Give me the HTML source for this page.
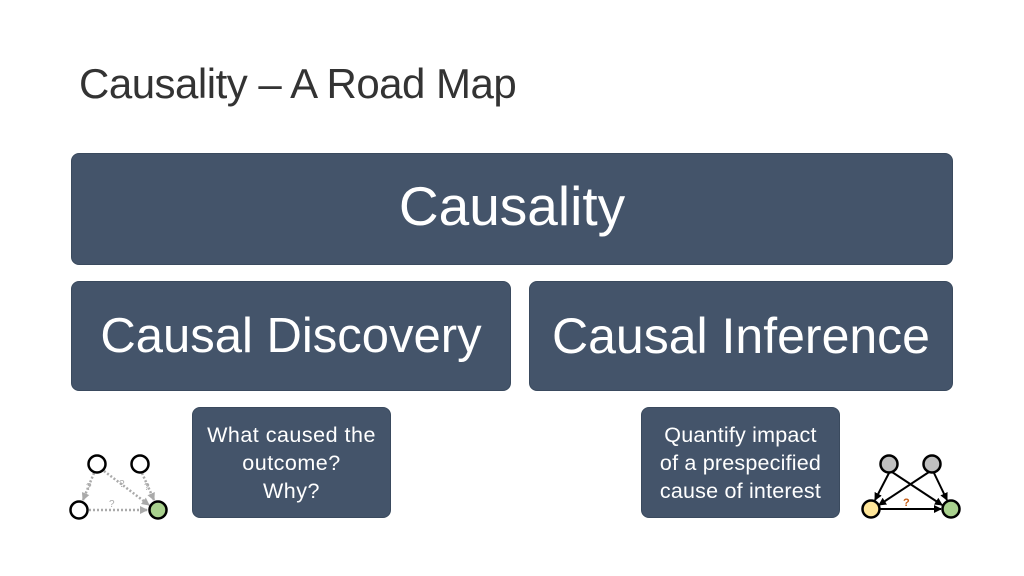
<!DOCTYPE html>
<html><head><style>
body{margin:0;width:1024px;height:576px;background:#fff;position:relative;overflow:hidden;font-family:"Liberation Sans",sans-serif}
.b{position:absolute;background:#44546A;border:1.5px solid #3a4a5e;border-radius:8px;color:#fff;display:flex;align-items:center;justify-content:center;text-align:center;box-sizing:border-box;white-space:nowrap}
</style></head><body>
<div style="position:absolute;left:79px;top:60px;font-size:42px;color:#333;letter-spacing:-0.5px">Causality – A Road Map</div>
<div class="b" style="left:71px;top:153px;width:882px;height:112px;font-size:55px;padding-bottom:6px">Causality</div>
<div class="b" style="left:71px;top:281px;width:440px;height:110px;font-size:49px">Causal Discovery</div>
<div class="b" style="left:529px;top:281px;width:424px;height:110px;font-size:50px">Causal Inference</div>
<div class="b" style="left:192px;top:407px;width:199px;height:111px;font-size:21.5px;line-height:28px;letter-spacing:0.5px">What caused the<br>outcome?<br>Why?</div>
<div class="b" style="left:641px;top:407px;width:199px;height:111px;font-size:21.5px;line-height:28px;letter-spacing:0.2px">Quantify impact<br>of a prespecified<br>cause of interest</div>
<svg width="1024" height="576" style="position:absolute;left:0;top:0">
<defs>
<marker id="g" markerUnits="userSpaceOnUse" markerWidth="8" markerHeight="8" refX="7" refY="4" orient="auto"><path d="M0,0L8,4L0,8z" fill="#aaa"/></marker>
<marker id="k" markerUnits="userSpaceOnUse" markerWidth="8" markerHeight="8" refX="7" refY="4" orient="auto"><path d="M0,0L8,4L0,8z" fill="#000"/></marker>
</defs>
<g stroke="#aaa" stroke-width="2.5" stroke-dasharray="2,2" fill="none" marker-end="url(#g)">
<line x1="94" y1="473" x2="83" y2="500"/><line x1="104" y1="471" x2="149" y2="505"/>
<line x1="142" y1="473" x2="154" y2="500"/><line x1="89" y1="510" x2="147" y2="510"/>
</g>
<g font-size="10" fill="#aaa"><text x="86" y="490">?</text><text x="119" y="487">?</text><text x="144" y="490">?</text><text x="109" y="507">?</text></g>
<g stroke="#000" stroke-width="2.5" fill="#fff"><circle cx="97" cy="464" r="8.5"/><circle cx="140" cy="464" r="8.5"/><circle cx="79" cy="510" r="8.5"/><circle cx="158" cy="510" r="8.5" fill="#a9d18e"/></g>
<g stroke="#000" stroke-width="2" marker-end="url(#k)">
<line x1="889" y1="473" x2="875" y2="500"/><line x1="892" y1="472" x2="942" y2="505"/>
<line x1="929" y1="472" x2="879" y2="505"/><line x1="934" y1="473" x2="947" y2="500"/>
<line x1="880" y1="509" x2="941" y2="509"/>
</g>
<text x="903" y="506" font-size="11" fill="#c55a11" font-weight="bold">?</text>
<g stroke="#000" stroke-width="2.5"><circle cx="889" cy="464" r="8.5" fill="#bfbfbf"/><circle cx="932" cy="464" r="8.5" fill="#bfbfbf"/><circle cx="871" cy="509" r="8.5" fill="#ffe699"/><circle cx="951" cy="509" r="8.5" fill="#a9d18e"/></g>
</svg>
</body></html>
